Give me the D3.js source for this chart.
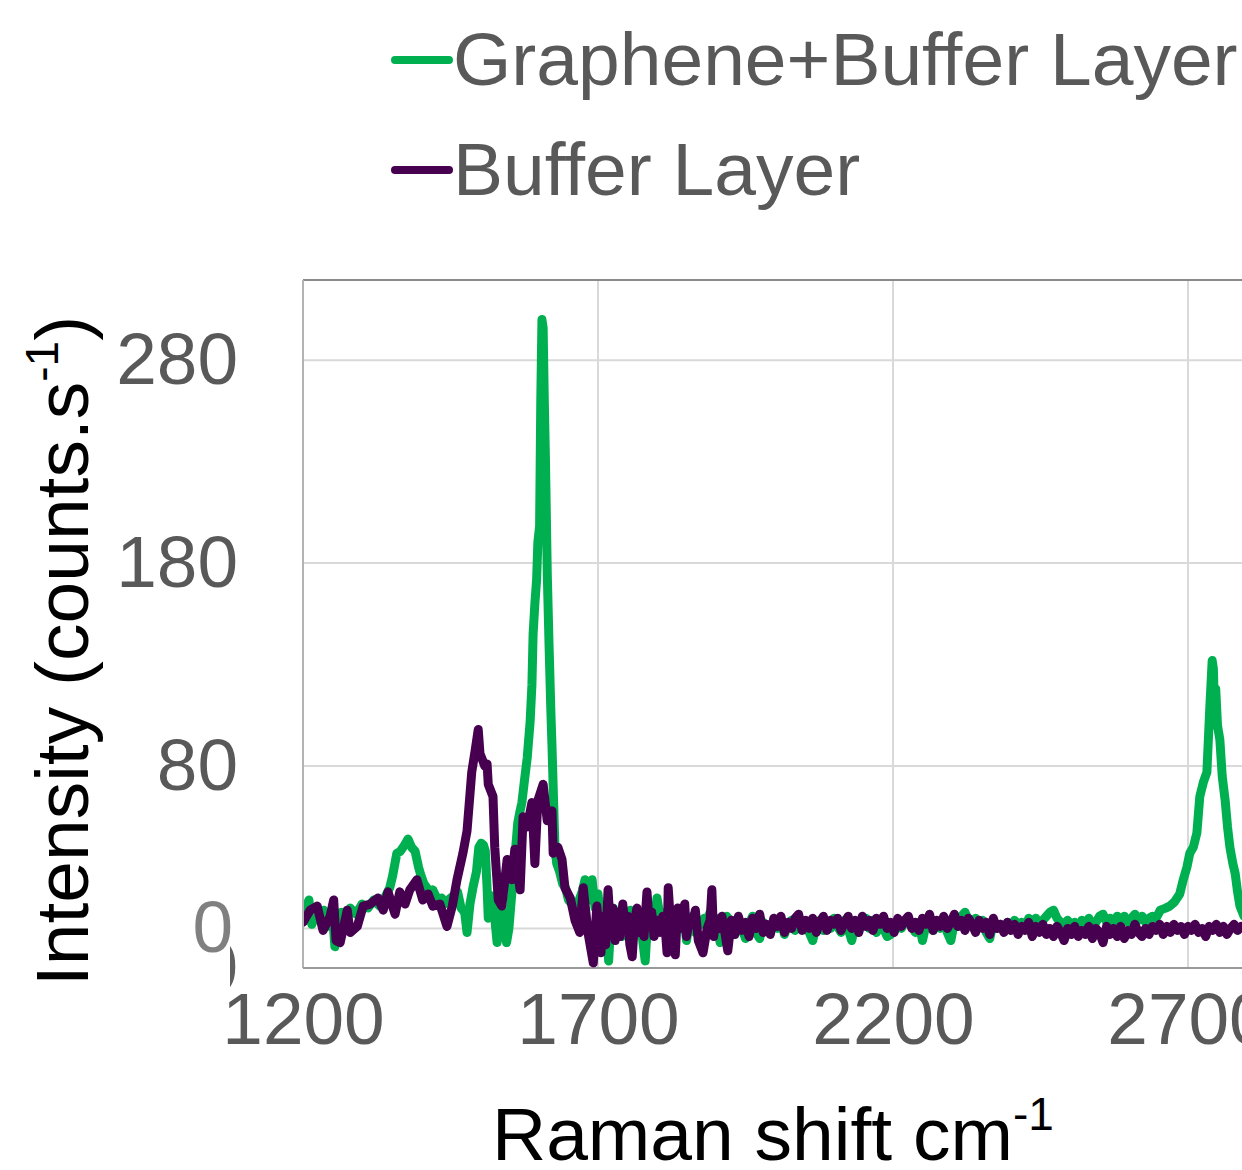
<!DOCTYPE html>
<html><head><meta charset="utf-8">
<script src="https://cdn.jsdelivr.net/npm/d3@7"></script>
<style>body{margin:0;background:#fff;} svg{display:block;font-family:"Liberation Sans",Arial,sans-serif;}</style>
</head><body>
<svg id="chart" width="1242" height="1170"></svg>
<script>
// ---- data ----
const seriesNames = ["Graphene+Buffer Layer", "Buffer Layer"];
const seriesColors = ["#00b050", "#46004f"];
const xTicks = [1200, 1700, 2200, 2700];
const yTicks = [0, 80, 180, 280];
const hiddenYTick = -20;

// Graphene+Buffer Layer: low-shift part (D, G region and noisy zone)
const grapheneHeadShift = [1200,1205,1210,1215,1220,1225,1230,1235,1240,1245,1250,1254,1258,1265,1270,1280,1290,1300,1310,1320,1330,1340,1347,1352,1359,1365,1372,1378,1384,1390,1396,1400,1405,1410,1415,1420,1425,1430,1435,1440,1446,1455,1462,1468,1474,1478,1483,1488,1494,1498,1502,1506,1509,1512,1514,1518,1522,1526,1529,1533,1537,1541,1545,1549,1553,1556,1560,1564,1568,1571,1575,1580,1585,1588,1590,1593,1596,1598,1601,1603,1605,1607,1609,1611,1614,1617,1620,1622,1624,1627,1630,1635,1640,1645,1650,1656,1662,1668,1673,1678,1684,1690,1695,1700,1705,1710,1714,1718,1722,1726,1730,1735,1740,1745,1750,1755,1760,1765,1770,1775,1780,1785,1790,1795,1800,1805,1810,1815,1820,1825,1830,1835,1840,1845,1850,1855,1860,1865,1870,1875,1880,1885,1890,1895,1900,1907,1912,1918];
const grapheneHeadIntensity = [12,4,14,2,8,10,3,9,6,1,7,-9,2,8,5,10,7,12,10,14,11,16,20,26,37,38,41,44,40,38,30,26,22,20,18,19,16,14,15,12,14,16,18,10,8,-2,12,20,28,40,42,41,38,20,5,14,16,2,-7,4,9,2,-7,0,14,24,38,52,58,62,72,84,102,120,145,160,172,190,198,260,300,296,260,230,175,140,108,90,70,40,32,28,22,20,14,12,8,14,18,24,14,24,10,17,4,-2,8,-16,4,10,2,8,-4,6,3,9,0,8,2,-4,-16,8,4,2,15,6,0,8,3,6,-2,5,2,8,-6,4,6,-2,4,2,5,4,8,0,5,-7,3,6];

// shared shift grid for the flat middle part
const midShift = [1926,1932,1938,1944,1950,1956,1962,1968,1974,1980,
  1986,1992,1998,2004,2010,2016,2022,2028,2034,2040,
  2046,2052,2058,2064,2070,2076,2082,2088,2094,2100,
  2106,2112,2118,2124,2130,2136,2142,2148,2154,2160,
  2166,2172,2178,2184,2190,2196,2202,2208,2214,2220,
  2226,2232,2238,2244,2250,2256,2262,2268,2274,2280,
  2286,2292,2298,2304,2310,2316,2322,2328,2334,2340,
  2346,2352,2358,2364,2370,2376,2382,2388,2394,2400,
  2406,2412,2418,2424,2430,2436,2442,2448,2454,2460,
  2466,2472,2478,2484,2490,2496,2502,2508,2514,2520,
  2526,2532,2538,2544,2550,2556,2562,2568,2574,2580,
  2586,2592,2598,2604,2610,2616,2622,2628,2634,2640];
const grapheneMidIntensity = [3,-3,5,0,-5,2,6,-2,-5,3,
  1,-2,4,0,5,-3,2,4,-1,3,
  0,3,-2,-6,2,4,-1,3,0,5,
  1,-2,4,0,-6,2,-1,3,5,0,
  4,-2,3,0,-4,-3,2,4,0,3,
  5,1,-2,3,-6,2,4,-1,2,0,
  4,-2,-6,3,1,6,8,4,2,5,
  1,4,-2,-5,3,0,2,-1,3,0,
  4,1,3,0,5,3,5,2,4,6,
  8,9,5,3,2,4,1,3,-1,4,
  2,5,1,3,6,7,3,5,2,6,
  4,6,3,5,7,4,6,3,5,6];
const bufferMidIntensity = [4,-3,6,-1,3,-4,5,0,7,-2,
  2,-3,5,1,6,-2,3,0,5,7,
  -1,4,0,5,-2,3,6,-1,4,2,
  5,-1,3,6,0,4,-2,6,1,4,
  -1,5,2,6,0,3,-2,5,1,4,
  6,0,3,-1,5,2,7,-1,4,1,
  6,0,3,7,1,4,-1,5,2,-2,
  4,0,3,-3,5,0,2,-2,3,-1,
  2,-3,1,-1,3,-4,1,-2,2,-3,
  0,-4,1,-2,-6,0,-3,1,-4,-1,
  -3,1,-5,0,-2,-7,1,-3,0,-4,
  1,-5,-1,-3,2,-2,-4,0,-3,1];

// Graphene+Buffer Layer: 2D band region
const grapheneTailShift = [2646,2653,2662,2669,2677,2686,2692,2698,2703,2709,2715,2720,2726,2732,2737,2741,2743,2745,2747,2750,2754,2758,2763,2767,2771,2776,2780,2784,2788,2795];
const grapheneTailIntensity = [5,9,10,11,13,17,24,30,37,40,47,65,72,77,109,132,128,106,118,100,93,75,63,50,40,32,27,18,11,6];

// Buffer Layer: low-shift part
const bufferHeadShift = [1200,1212,1224,1234,1246,1252,1256,1263,1275,1280,1292,1302,1314,1327,1336,1344,1356,1364,1373,1381,1393,1403,1412,1420,1432,1444,1453,1461,1471,1478,1486,1492,1497,1500,1503,1508,1512,1514,1522,1525,1531,1537,1546,1554,1559,1568,1573,1580,1588,1593,1598,1607,1614,1622,1624,1632,1639,1644,1653,1661,1669,1675,1683,1692,1698,1705,1709,1713,1717,1721,1725,1729,1733,1737,1742,1746,1750,1754,1758,1762,1766,1770,1774,1778,1783,1787,1791,1795,1800,1805,1810,1814,1817,1819,1823,1827,1831,1835,1840,1847,1850,1855,1860,1865,1870,1878,1885,1890,1893,1896,1900,1905,1910,1915,1920];
const bufferHeadIntensity = [3,9,11,-1,6,14,-6,-7,9,-2,1,11,12,15,9,18,7,18,12,19,24,14,17,11,12,1,11,24,37,48,77,88,98,86,84,80,81,71,65,40,14,11,34,24,39,19,55,50,62,32,63,71,53,58,37,40,34,20,15,4,-2,20,-2,-17,11,-12,6,-8,19,0,10,-6,8,-4,12,0,6,-8,-14,4,10,-2,6,-4,18,2,8,-4,4,-2,6,0,-12,20,2,8,-13,10,0,12,-4,4,2,9,-6,-12,0,4,19,-4,4,0,6,-2,-11];
// Buffer Layer: high-shift part
const bufferTailShift = [2646,2652,2658,2664,2670,2676,2682,2688,2694,2700,2706,2712,2718,2724,2730,2736,2742,2748,2754,2760,2766,2772,2778,2784,2790,2796];
const bufferTailIntensity = [-1,2,-3,1,-2,2,-1,1,-3,1,-1,2,-2,0,-4,1,-1,2,-2,1,-3,0,2,-1,1,0];

const grapheneShift = grapheneHeadShift.concat(midShift, grapheneTailShift);
const grapheneIntensity = grapheneHeadIntensity.concat(grapheneMidIntensity, grapheneTailIntensity);
const bufferShift = bufferHeadShift.concat(midShift, bufferTailShift);
const bufferIntensity = bufferHeadIntensity.concat(bufferMidIntensity, bufferTailIntensity);

// ---- chart ----
const plot = {left: 303, top: 280, bottom: 968, right: 1242};
const svg = d3.select("#chart");
const x = d3.scaleLinear().domain([1200, 2800]).range([303, 1247]);
const y = d3.scaleLinear().domain([-20, 320]).range([969, 279]);
const tickColor = "#595959";
const fontSize = 73;
const lineWidth = 9;

// gridlines
const grid = svg.append("g");
grid.selectAll("line.v").data(xTicks.filter(d => d !== 1200)).join("line")
  .attr("x1", d => x(d)).attr("x2", d => x(d))
  .attr("y1", plot.top).attr("y2", plot.bottom)
  .attr("stroke", "#d9d9d9").attr("stroke-width", 2);
grid.selectAll("line.h").data(yTicks).join("line")
  .attr("x1", plot.left).attr("x2", plot.right)
  .attr("y1", d => y(d)).attr("y2", d => y(d))
  .attr("stroke", "#d9d9d9").attr("stroke-width", 2);

// borders
svg.append("line").attr("x1", plot.left).attr("x2", plot.right).attr("y1", plot.top).attr("y2", plot.top)
  .attr("stroke", "#8a8a8a").attr("stroke-width", 2);
svg.append("line").attr("x1", plot.left).attr("x2", plot.left).attr("y1", plot.top).attr("y2", plot.bottom)
  .attr("stroke", "#b3b3b3").attr("stroke-width", 2);
svg.append("line").attr("x1", plot.left).attr("x2", plot.right).attr("y1", plot.bottom).attr("y2", plot.bottom)
  .attr("stroke", "#999999").attr("stroke-width", 2);

// clip
svg.append("clipPath").attr("id", "plotclip").append("rect")
  .attr("x", plot.left + 1).attr("y", plot.top).attr("width", 1000).attr("height", plot.bottom - plot.top);

const line = d3.line().x(d => x(d[0])).y(d => y(d[1]));
const lines = svg.append("g").attr("clip-path", "url(#plotclip)");
lines.append("path").datum(d3.zip(grapheneShift, grapheneIntensity))
  .attr("d", line).attr("fill", "none").attr("stroke", seriesColors[0])
  .attr("stroke-width", lineWidth).attr("stroke-linejoin", "round").attr("stroke-linecap", "round");
lines.append("path").datum(d3.zip(bufferShift, bufferIntensity))
  .attr("d", line).attr("fill", "none").attr("stroke", seriesColors[1])
  .attr("stroke-width", lineWidth).attr("stroke-linejoin", "round").attr("stroke-linecap", "round");

// x axis
const xAxis = svg.append("g").attr("transform", `translate(0,${plot.bottom})`)
  .call(d3.axisBottom(x).tickValues(xTicks).tickFormat(d3.format("d")).tickSize(0).tickPadding(24));
xAxis.select(".domain").remove();
xAxis.selectAll("text").attr("font-size", fontSize).attr("fill", tickColor)
  .attr("font-family", '"Liberation Sans", Arial, sans-serif');

// y axis (80,180,280)
const yAxis = svg.append("g").attr("transform", `translate(${plot.left},0)`)
  .call(d3.axisLeft(y).tickValues(yTicks.filter(d => d !== 0)).tickFormat(d3.format("d")).tickSize(0).tickPadding(65));
yAxis.select(".domain").remove();
yAxis.selectAll("text").attr("font-size", fontSize).attr("fill", tickColor)
  .attr("font-family", '"Liberation Sans", Arial, sans-serif');

// zero label (lighter, shifted)
svg.append("text").attr("x", 233).attr("y", y(0)).attr("dy", "0.32em")
  .attr("text-anchor", "end").attr("font-size", fontSize).attr("fill", "#808080").text(yTicks[0]);

// hidden -20 label, mostly clipped
svg.append("clipPath").attr("id", "negclip").append("rect")
  .attr("x", 230).attr("y", 940).attr("width", 10).attr("height", 50);
svg.append("g").attr("clip-path", "url(#negclip)").append("text")
  .attr("x", 238).attr("y", y(hiddenYTick)).attr("dy", "0.32em")
  .attr("text-anchor", "end").attr("font-size", fontSize).attr("fill", "#606060").text(String(hiddenYTick));

// axis titles
const xt = svg.append("text").attr("x", 492).attr("y", 1160).attr("font-size", 75).attr("fill", "#000");
xt.append("tspan").text("Raman shift cm");
xt.append("tspan").attr("font-size", 46).attr("dy", -30).text("-1");

const yt = svg.append("text").attr("transform", "translate(88,651) rotate(-90)")
  .attr("text-anchor", "middle").attr("font-size", 75).attr("fill", "#000");
yt.append("tspan").text("Intensity (counts.s");
yt.append("tspan").attr("font-size", 46).attr("dy", -30).text("-1");
yt.append("tspan").attr("dy", 30).text(")");

// legend
const legendY = [60, 170];
const leg = svg.append("g");
seriesNames.forEach((name, i) => {
  leg.append("line").attr("x1", 395).attr("x2", 449).attr("y1", legendY[i]).attr("y2", legendY[i])
    .attr("stroke", seriesColors[i]).attr("stroke-width", 8).attr("stroke-linecap", "round");
  leg.append("text").attr("x", 453).attr("y", legendY[i] + 25).attr("font-size", 75)
    .attr("fill", tickColor).text(name);
});
</script>
</body></html>
